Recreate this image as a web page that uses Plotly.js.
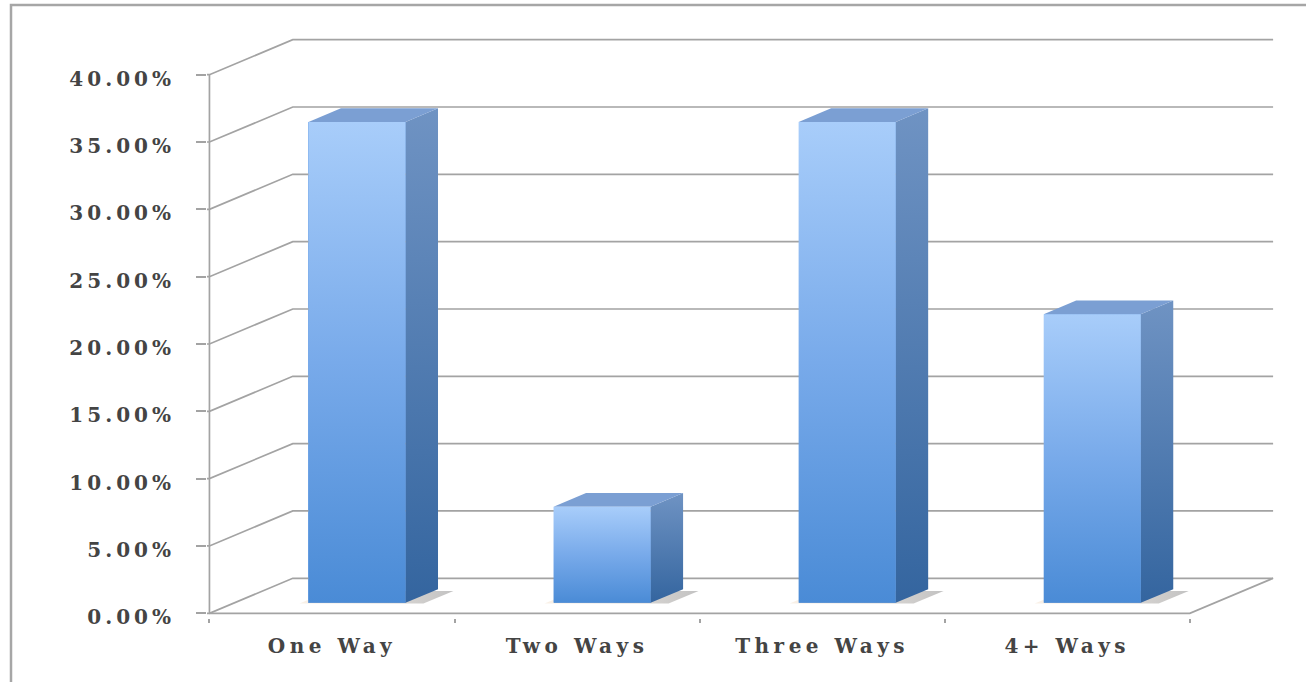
<!DOCTYPE html>
<html>
<head>
<meta charset="utf-8">
<script src="https://cdn.plot.ly/plotly-3.0.1.min.js"></script>
<style>
  html, body { margin: 0; padding: 0; background: #ffffff; }
  #chart { width: 1306px; height: 682px; }
  #chart .xtick text { letter-spacing: 4.5px; }
  #chart .ytick text { letter-spacing: 4px; }
</style>
</head>
<body>
<div id="chart"></div>
<script>
// ---- data ----
const categories = ['One Way', 'Two Ways', 'Three Ways', '4+ Ways'];
const values = [35.71, 7.14, 35.71, 21.43];          // percent
const yTicks = [0, 5, 10, 15, 20, 25, 30, 35, 40];    // percent tick values
const yTickText = yTicks.map(v => v.toFixed(2) + '%');

// ---- 3-D projection constants (in axis units) ----
const DX = 0.34;   // full floor depth, x shift (category units)
const DY = 2.6;    // full floor depth, y shift (percent units)
const F0 = 0.30;   // depth of bar front face
const F1 = 0.69;   // depth of bar back face
const W = 0.396;   // bar width (category units)
const XMIN = -0.51, XMAX = 3.86;
const YMIN = -0.35, YMAX = 42.8;
const xFirst = -0.5, xLast = categories.length - 0.5;
const yTop = yTicks[yTicks.length - 1];

const GRID = '#a3a3a3';
const traces = [];

// grid: diagonals + back wall lines + front axis + floor
const gx = [], gy = [];
yTicks.forEach(v => {
  gx.push(XMIN, xFirst, xFirst + DX, xLast + DX, null);
  gy.push(v, v, v + DY, v + DY, null);
});
gx.push(xFirst, xFirst, null, xFirst, xLast, xLast + DX, null);
gy.push(0, yTop, null, 0, 0, DY, null);
traces.push({
  type: 'scatter', mode: 'lines', x: gx, y: gy,
  line: { color: GRID, width: 1.7 }, hoverinfo: 'skip', showlegend: false
});

// floor shadows (soft, mostly hidden behind the bars)
categories.forEach((c, i) => {
  const xl = i - W / 2 - 0.03, xr = i + W / 2 + 0.08;
  const d0 = F0 - 0.02, d1 = F1 - 0.05;
  traces.push({
    type: 'scatter', mode: 'lines', fill: 'toself',
    x: [xl + d0 * DX, xr + d0 * DX, xr + d1 * DX, xl + d1 * DX, xl + d0 * DX],
    y: [d0 * DY, d0 * DY, d1 * DY, d1 * DY, d0 * DY],
    line: { width: 0 },
    fillgradient: { type: 'horizontal', start: xl + d0 * DX, stop: xr + d1 * DX,
      colorscale: [[0, 'rgba(235,200,160,0.25)'], [0.5, 'rgba(160,150,140,0.35)'], [1, 'rgba(120,120,120,0.45)']] },
    hoverinfo: 'skip', showlegend: false
  });
});

// bar front faces (bar trace)
const base = F0 * DY;
traces.push({
  type: 'bar', name: 'Share',
  x: categories.map((c, i) => i + F0 * DX),
  y: values, base: base, width: W,
  marker: { color: '#78a9e8', line: { width: 0 } },
  text: categories, hovertemplate: '%{text}: %{y:.2f}%<extra></extra>',
  textposition: 'none', showlegend: false
});

const bdx = (F1 - F0) * DX, bdy = (F1 - F0) * DY;
categories.forEach((c, i) => {
  const xl = i - W / 2 + F0 * DX, xr = i + W / 2 + F0 * DX;
  const v = values[i], top = base + v;
  // side face
  traces.push({
    type: 'scatter', mode: 'lines', fill: 'toself',
    x: [xr, xr + bdx, xr + bdx, xr, xr],
    y: [base, base + bdy, top + bdy, top, base],
    line: { width: 0 },
    fillgradient: { type: 'vertical', start: base, stop: top + bdy,
      colorscale: [[0, '#34659f'], [1, '#6f93c3']] },
    hoverinfo: 'skip', showlegend: false
  });
  // top face
  traces.push({
    type: 'scatter', mode: 'lines', fill: 'toself',
    x: [xl, xl + bdx, xr + bdx, xr, xl],
    y: [top, top + bdy, top + bdy, top, top],
    line: { width: 0 }, fillcolor: '#7b9fd3',
    hoverinfo: 'skip', showlegend: false
  });
  // front face gradient
  traces.push({
    type: 'scatter', mode: 'lines', fill: 'toself',
    x: [xl, xr, xr, xl, xl],
    y: [base, base, top, top, base],
    line: { width: 0 },
    fillgradient: { type: 'vertical', start: base, stop: top,
      colorscale: [[0, '#4a8bd6'], [0.5, '#78aaea'], [1, '#a8cdfa']] },
    hoverinfo: 'skip', showlegend: false
  });
});

const plotLeft = 207, plotRight = 1278, plotTop = 37, plotBottom = 618;
const pw = plotRight - plotLeft, ph = plotBottom - plotTop;
// outer frame (top and left edges) in paper coords
const fx = (11 - plotLeft) / pw, fy = (plotBottom - 5) / ph;

const TXT = '#444444';
const layout = {
  width: 1306, height: 682,
  margin: { l: plotLeft, r: 1306 - plotRight, t: plotTop, b: 682 - plotBottom, pad: 0 },
  paper_bgcolor: '#ffffff', plot_bgcolor: '#ffffff',
  showlegend: false,
  font: { family: 'DejaVu Serif, Liberation Serif, serif', color: TXT, size: 20 },
  xaxis: {
    type: 'linear', range: [XMIN, XMAX], fixedrange: true,
    showgrid: false, zeroline: false, showline: false,
    tickmode: 'array', tickvals: categories.map((c, i) => i), ticktext: categories,
    ticks: '', tickangle: 0, ticklabelstandoff: 14,
    tickfont: { size: 20, color: TXT, weight: 'bold' },
    minor: { tickmode: 'linear', tick0: -0.5, dtick: 1, ticks: 'outside', ticklen: 4,
             tickcolor: GRID, tickwidth: 1.5, showgrid: false }
  },
  yaxis: {
    range: [YMIN, YMAX], fixedrange: true,
    showgrid: false, zeroline: false, showline: false,
    tickmode: 'array', tickvals: yTicks, ticktext: yTickText,
    ticks: 'outside', ticklen: 10, tickcolor: GRID, tickwidth: 1.5,
    ticklabelstandoff: 17, ticklabelshift: 4,
    tickfont: { size: 20, color: TXT, weight: 'bold' }
  },
  shapes: [
    { type: 'path', xref: 'paper', yref: 'paper',
      path: `M ${fx} -0.2 L ${fx} ${fy} L 1.2 ${fy}`,
      line: { color: '#a6a6a6', width: 2.5 } }
  ],
  bargap: 0
};

Plotly.newPlot('chart', traces, layout, { displayModeBar: false });
</script>
</body>
</html>
